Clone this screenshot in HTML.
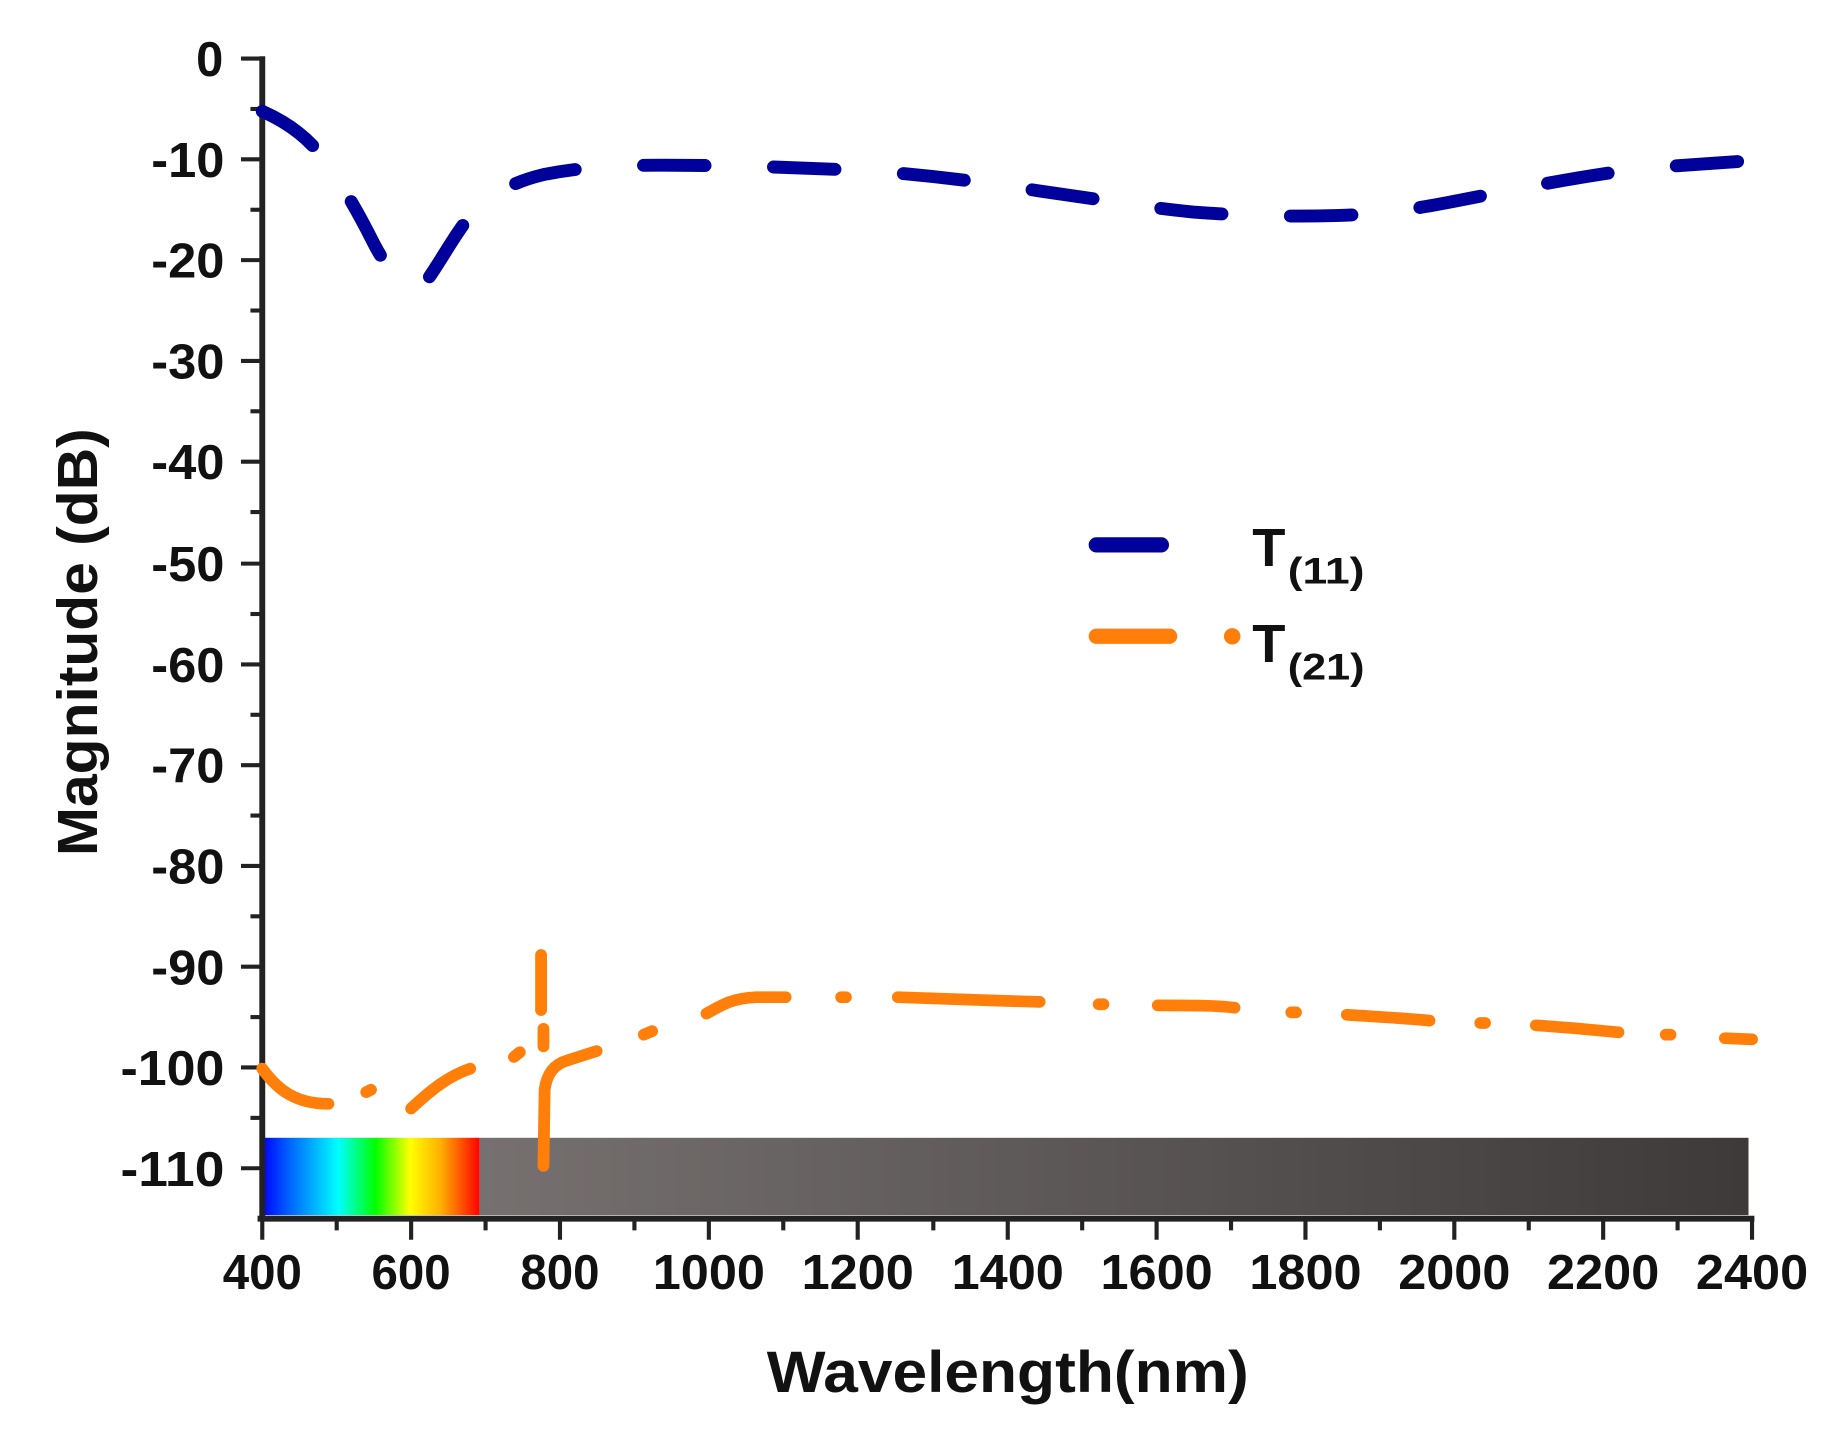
<!DOCTYPE html>
<html><head><meta charset="utf-8"><style>html,body{margin:0;padding:0;background:#fff;}svg{display:block}</style></head>
<body>
<svg width="1843" height="1453" viewBox="0 0 1560 1240" preserveAspectRatio="none" xmlns="http://www.w3.org/2000/svg" font-family="Liberation Sans, Arial, sans-serif" font-weight="bold">
<defs>
<linearGradient id="spec" x1="0" x2="1" y1="0" y2="0">
<stop offset="0" stop-color="#0000ff"/><stop offset="0.12" stop-color="#0060ff"/><stop offset="0.35" stop-color="#00ffff"/><stop offset="0.52" stop-color="#00ff00"/><stop offset="0.68" stop-color="#ffff00"/><stop offset="0.82" stop-color="#ffb000"/><stop offset="1" stop-color="#ff0000"/>
</linearGradient>
<linearGradient id="gray" x1="0" x2="1" y1="0" y2="0">
<stop offset="0" stop-color="#767170"/><stop offset="1" stop-color="#3e3a3a"/>
</linearGradient>
</defs>
<rect x="222" y="971" width="184" height="66" fill="url(#spec)"/>
<rect x="406" y="971" width="1074" height="66" fill="url(#gray)"/>
<g stroke="#222" stroke-width="5" fill="none">
<line x1="222" y1="48" x2="222" y2="1042"/>
<line x1="218" y1="1040" x2="1485" y2="1040"/>
</g>
<g stroke="#222" stroke-width="3.5">
<line x1="204" y1="50" x2="222" y2="50"/><line x1="204" y1="136" x2="222" y2="136"/><line x1="204" y1="222" x2="222" y2="222"/><line x1="204" y1="308" x2="222" y2="308"/><line x1="204" y1="394" x2="222" y2="394"/><line x1="204" y1="481" x2="222" y2="481"/><line x1="204" y1="567" x2="222" y2="567"/><line x1="204" y1="653" x2="222" y2="653"/><line x1="204" y1="739" x2="222" y2="739"/><line x1="204" y1="825" x2="222" y2="825"/><line x1="204" y1="911" x2="222" y2="911"/><line x1="204" y1="997" x2="222" y2="997"/>
<line x1="212" y1="93" x2="222" y2="93"/><line x1="212" y1="179" x2="222" y2="179"/><line x1="212" y1="265" x2="222" y2="265"/><line x1="212" y1="351" x2="222" y2="351"/><line x1="212" y1="437" x2="222" y2="437"/><line x1="212" y1="524" x2="222" y2="524"/><line x1="212" y1="610" x2="222" y2="610"/><line x1="212" y1="696" x2="222" y2="696"/><line x1="212" y1="782" x2="222" y2="782"/><line x1="212" y1="868" x2="222" y2="868"/><line x1="212" y1="954" x2="222" y2="954"/>
<line x1="222" y1="1040" x2="222" y2="1058"/><line x1="348" y1="1040" x2="348" y2="1058"/><line x1="474" y1="1040" x2="474" y2="1058"/><line x1="600" y1="1040" x2="600" y2="1058"/><line x1="726" y1="1040" x2="726" y2="1058"/><line x1="853" y1="1040" x2="853" y2="1058"/><line x1="979" y1="1040" x2="979" y2="1058"/><line x1="1105" y1="1040" x2="1105" y2="1058"/><line x1="1231" y1="1040" x2="1231" y2="1058"/><line x1="1357" y1="1040" x2="1357" y2="1058"/><line x1="1483" y1="1040" x2="1483" y2="1058"/>
<line x1="285" y1="1040" x2="285" y2="1050"/><line x1="411" y1="1040" x2="411" y2="1050"/><line x1="537" y1="1040" x2="537" y2="1050"/><line x1="663" y1="1040" x2="663" y2="1050"/><line x1="790" y1="1040" x2="790" y2="1050"/><line x1="916" y1="1040" x2="916" y2="1050"/><line x1="1042" y1="1040" x2="1042" y2="1050"/><line x1="1168" y1="1040" x2="1168" y2="1050"/><line x1="1294" y1="1040" x2="1294" y2="1050"/><line x1="1420" y1="1040" x2="1420" y2="1050"/>
</g>
<g font-size="42" fill="#111" text-anchor="end" lengthAdjust="spacingAndGlyphs">
<text x="189" y="65" textLength="23" lengthAdjust="spacingAndGlyphs">0</text>
<text x="190" y="151" textLength="62" lengthAdjust="spacingAndGlyphs">-10</text>
<text x="190" y="237" textLength="62" lengthAdjust="spacingAndGlyphs">-20</text>
<text x="190" y="323" textLength="62" lengthAdjust="spacingAndGlyphs">-30</text>
<text x="190" y="409" textLength="62" lengthAdjust="spacingAndGlyphs">-40</text>
<text x="190" y="496" textLength="62" lengthAdjust="spacingAndGlyphs">-50</text>
<text x="190" y="582" textLength="62" lengthAdjust="spacingAndGlyphs">-60</text>
<text x="190" y="668" textLength="62" lengthAdjust="spacingAndGlyphs">-70</text>
<text x="190" y="754" textLength="62" lengthAdjust="spacingAndGlyphs">-80</text>
<text x="190" y="840" textLength="62" lengthAdjust="spacingAndGlyphs">-90</text>
<text x="190" y="926" textLength="88" lengthAdjust="spacingAndGlyphs">-100</text>
<text x="190" y="1012" textLength="88" lengthAdjust="spacingAndGlyphs">-110</text>
</g>
<g font-size="42" fill="#111" text-anchor="middle">
<text x="222" y="1100" textLength="67" lengthAdjust="spacingAndGlyphs">400</text>
<text x="348" y="1100" textLength="67" lengthAdjust="spacingAndGlyphs">600</text>
<text x="474" y="1100" textLength="67" lengthAdjust="spacingAndGlyphs">800</text>
<text x="600" y="1100" textLength="95" lengthAdjust="spacingAndGlyphs">1000</text>
<text x="726" y="1100" textLength="95" lengthAdjust="spacingAndGlyphs">1200</text>
<text x="853" y="1100" textLength="95" lengthAdjust="spacingAndGlyphs">1400</text>
<text x="979" y="1100" textLength="95" lengthAdjust="spacingAndGlyphs">1600</text>
<text x="1105" y="1100" textLength="95" lengthAdjust="spacingAndGlyphs">1800</text>
<text x="1231" y="1100" textLength="95" lengthAdjust="spacingAndGlyphs">2000</text>
<text x="1357" y="1100" textLength="95" lengthAdjust="spacingAndGlyphs">2200</text>
<text x="1483" y="1100" textLength="95" lengthAdjust="spacingAndGlyphs">2400</text>
</g>
<text x="853" y="1188" font-size="50" text-anchor="middle" fill="#111" textLength="408" lengthAdjust="spacingAndGlyphs">Wavelength(nm)</text>
<text transform="translate(82,548) rotate(-90)" font-size="48" text-anchor="middle" fill="#111" textLength="365" lengthAdjust="spacingAndGlyphs">Magnitude (dB)</text>
<path d="M222,95 C240,103 255,113 268,128 C285,150 300,175 315,205 C330,235 345,250 358,244 C372,225 382,205 395,188 C415,165 435,155 460,149 C490,143 520,141 560,141 C620,141 680,143 740,146 C790,150 830,155 880,163 C930,170 970,177 1010,181 C1050,184 1090,185 1130,184 C1170,183 1200,178 1240,170 C1290,160 1330,152 1380,145 C1420,141 1455,139 1483,137" stroke="#00009a" stroke-width="11" fill="none" stroke-linecap="round" stroke-dasharray="52 58"/>
<g stroke="#ff7f0a" stroke-width="10" fill="none" stroke-linecap="round">
<path d="M222,912 C235,930 250,942 278,942"/>
<path d="M310,932 L314,930"/>
<path d="M348,946 C365,930 380,918 398,912"/>
<path d="M435,902 L440,898"/>
<path d="M458,815 L458,862"/>
<path d="M460,878 L460,893"/>
<path d="M460,995 L461,930 C463,915 470,908 480,905 L505,897"/>
<path d="M545,883 L552,880"/>
<path d="M598,865 C612,857 620,852 640,851 L665,851"/>
<path d="M712,851 L716,851"/>
<path d="M760,851 C820,853 840,854 880,855"/>
<path d="M930,857 L934,857"/>
<path d="M980,858 C1010,858 1030,858 1045,860"/>
<path d="M1093,864 L1097,864"/>
<path d="M1140,866 C1170,868 1190,869 1210,871"/>
<path d="M1253,873 L1257,873"/>
<path d="M1300,875 C1330,877 1350,879 1370,881"/>
<path d="M1410,883 L1414,883"/>
<path d="M1460,886 L1483,887"/>
</g>
<line x1="928" y1="465" x2="983" y2="465" stroke="#00009a" stroke-width="13" stroke-linecap="round"/>
<line x1="928" y1="543" x2="990" y2="543" stroke="#ff7f0a" stroke-width="13" stroke-linecap="round"/>
<circle cx="1043" cy="543" r="7" fill="#ff7f0a"/>
<text x="1060" y="483" font-size="46" fill="#111">T</text>
<text x="1090" y="498" font-size="32" fill="#111" textLength="65" lengthAdjust="spacingAndGlyphs">(11)</text>
<text x="1060" y="565" font-size="46" fill="#111">T</text>
<text x="1090" y="580" font-size="32" fill="#111" textLength="65" lengthAdjust="spacingAndGlyphs">(21)</text>
</svg>
</body></html>
